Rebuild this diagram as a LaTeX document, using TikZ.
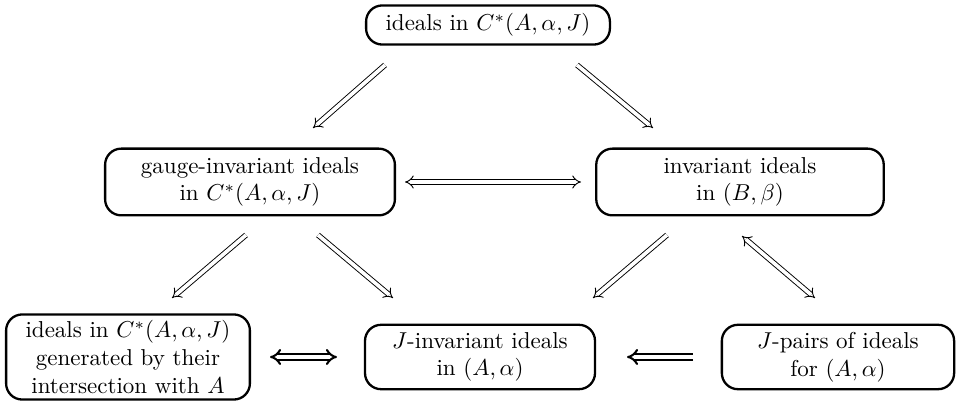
\documentclass[tikz,border=0pt]{standalone}
\usetikzlibrary{arrows.meta}
\begin{document}
\begin{tikzpicture}[x=0.4348pt,y=-0.4348pt,
  box/.style={draw,line width=1pt,rounded corners=7pt,align=center,inner sep=2pt},
  thinimp/.style={double,double distance=1.6pt,line width=0.4pt,-{Implies[scale=1.5]}},
  thinimpb/.style={double,double distance=1.6pt,line width=0.4pt,{Implies[scale=1.5]}-{Implies[scale=1.5]}},
  thickimp/.style={double,double distance=1.4pt,line width=0.9pt,-{Implies}},
  thickimpb/.style={double,double distance=1.4pt,line width=0.9pt,{Implies}-{Implies}}]
\useasboundingbox (0,0) rectangle (957,404);
\node[box,minimum width=106pt,minimum height=17pt] (top) at (488,25) {ideals in $C^*(A,\alpha,J)$};
\node[box,minimum width=126pt,minimum height=29pt] (gi) at (250,182) {gauge-invariant ideals\\ in $C^*(A,\alpha,J)$};
\node[box,minimum width=125pt,minimum height=29pt] (inv) at (740,182) {invariant ideals\\ in $(B,\beta)$};
\node[box,minimum width=106pt,minimum height=37pt] (gen) at (128,357) {ideals in $C^*(A,\alpha,J)$\\ generated by their\\ intersection with $A$};
\node[box,minimum width=100pt,minimum height=28pt] (jinv) at (480,357) {$J$-invariant ideals\\ in $(A,\alpha)$};
\node[box,minimum width=101pt,minimum height=28pt] (jp) at (838,357) {$J$-pairs of ideals\\ for $(A,\alpha)$};
\coordinate (a1s) at (385,65); \coordinate (a1e) at (313,128);
\coordinate (a2s) at (577,65); \coordinate (a2e) at (653,128);
\coordinate (a3s) at (405,182); \coordinate (a3e) at (581,182);
\coordinate (a4s) at (246,235); \coordinate (a4e) at (172,298);
\coordinate (a5s) at (318,235); \coordinate (a5e) at (393,298);
\coordinate (a6s) at (667,235); \coordinate (a6e) at (593,298);
\coordinate (a7s) at (742,236); \coordinate (a7e) at (815,298);
\coordinate (a8s) at (270,357); \coordinate (a8e) at (337,357);
\coordinate (a9s) at (693,357); \coordinate (a9e) at (627,357);
\draw[thinimp] (a1s) -- (a1e);
\draw[thinimp] (a2s) -- (a2e);
\draw[thinimpb] (a3s) -- (a3e);
\draw[thinimp] (a4s) -- (a4e);
\draw[thinimp] (a5s) -- (a5e);
\draw[thinimp] (a6s) -- (a6e);
\draw[thinimpb] (a7s) -- (a7e);
\draw[thickimpb] (a8s) -- (a8e);
\draw[thickimp] (a9s) -- (a9e);
\end{tikzpicture}
\end{document}
